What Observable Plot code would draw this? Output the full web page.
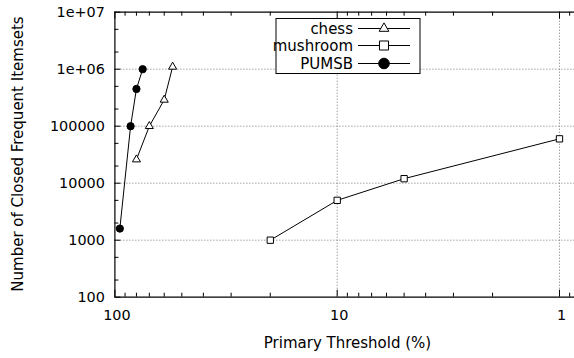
<!DOCTYPE html>
<html><head><meta charset="utf-8">
<script src="https://cdn.jsdelivr.net/npm/d3@7"></script>
<script src="https://cdn.jsdelivr.net/npm/@observablehq/plot@0.6"></script>
<style>
body{margin:0;background:#fff;font-family:"DejaVu Sans",sans-serif;}
#wrap{position:relative;width:574px;height:358px;overflow:hidden;}
#overlay{position:absolute;left:0;top:0;pointer-events:none;}
</style></head><body>
<div id="wrap"></div>
<script>
const seriesNames = ["chess", "mushroom", "PUMSB"];
const chessX = [80, 70, 60, 55];
const chessY = [26000, 100000, 290000, 1100000];
const mushroomX = [20, 10, 5, 1];
const mushroomY = [1000, 5000, 12000, 60000];
const pumsbX = [95, 85, 80, 75];
const pumsbY = [1600, 100000, 450000, 1000000];
const xTicks = [100, 10, 1];
const xTickLabels = ["100", "10", "1"];
const yTicks = [100, 1000, 10000, 100000, 1000000, 10000000];
const yTickLabels = ["100", "1000", "10000", "100000", "1e+06", "1e+07"];
const xLabel = "Primary Threshold (%)";
const yLabel = "Number of Closed Frequent Itemsets";

const symbols = {chess: "triangle", mushroom: "square", PUMSB: "circle"};
const fills = {chess: "white", mushroom: "white", PUMSB: "black"};
const radii = {chess: 3.6, mushroom: 5.1, PUMSB: 5.3};

const table = [];
[[chessX, chessY, "chess"], [mushroomX, mushroomY, "mushroom"], [pumsbX, pumsbY, "PUMSB"]]
  .forEach(([xs, ys, s]) => xs.forEach((x, i) => table.push({series: s, x, y: ys[i]})));

const xMinor = [];
for (const base of [1, 10]) for (let k = 2; k <= 9; k++) xMinor.push(base * k);
xMinor.push(0.9);
const yMinor = [];
for (const base of [100, 1000, 10000, 100000, 1000000]) { yMinor.push(base * 2, base * 5); }

const xLab = new Map(xTicks.map((d, i) => [d, xTickLabels[i]]));
const yLab = new Map(yTicks.map((d, i) => [d, yTickLabels[i]]));

const W = 574, H = 358, mL = 114.4, mR = 0, mT = 11.7, mB = 61.3;
const innerW = W - mL - mR, innerH = H - mT - mB;
const majorLen = 7, minorLen = 4;

const chart = Plot.plot({
  width: W, height: H,
  marginLeft: mL, marginRight: mR, marginTop: mT, marginBottom: mB,
  style: {fontFamily: "DejaVu Sans", fontSize: "14.4px", background: "white", color: "black", overflow: "visible"},
  x: {type: "log", domain: [100, 0.856], axis: null},
  y: {type: "log", domain: [100, 1e7], axis: null},
  marks: [
    Plot.ruleY(yTicks.slice(1, -1), {stroke: "#777", strokeDasharray: "1,2", strokeWidth: 1}),
    Plot.ruleX(xTicks.slice(1), {stroke: "#777", strokeDasharray: "1,2", strokeWidth: 1}),
    // inward ticks
    Plot.ruleX(xTicks, {stroke: "black", insetTop: innerH - majorLen}),
    Plot.ruleX(xMinor, {stroke: "black", insetTop: innerH - minorLen}),
    Plot.ruleX(xTicks, {stroke: "black", insetBottom: innerH - majorLen}),
    Plot.ruleX(xMinor, {stroke: "black", insetBottom: innerH - minorLen}),
    Plot.ruleY(yTicks, {stroke: "black", insetRight: innerW - 6}),
    Plot.ruleY(yMinor, {stroke: "black", insetRight: innerW - minorLen}),
    Plot.axisX(xTicks, {anchor: "bottom", tickSize: 0, tickPadding: 13, dx: 2, tickFormat: d => xLab.get(d), label: null}),
    Plot.axisY(yTicks, {anchor: "left", tickSize: 0, tickPadding: 10, tickFormat: d => yLab.get(d), label: null}),
    Plot.ruleY([100], {stroke: "black", strokeWidth: 1.2}),
    Plot.ruleY([1e7], {stroke: "black", strokeWidth: 1.2}),
    Plot.ruleX([100], {stroke: "black", strokeWidth: 1.2}),
    Plot.line(table, {x: "x", y: "y", z: "series", stroke: "black", strokeWidth: 1}),
    Plot.dot(table, {x: "x", y: "y", symbol: d => symbols[d.series], r: d => radii[d.series],
      fill: d => fills[d.series], stroke: "black", strokeWidth: 1})
  ]
});
document.getElementById("wrap").appendChild(chart);

// overlay: axis titles and legend
const ov = d3.select("#wrap").append("svg").attr("id", "overlay")
  .attr("width", W).attr("height", H)
  .style("font-family", "DejaVu Sans").style("font-size", "15px");
ov.append("text").attr("x", 347.5).attr("y", 347.5).attr("text-anchor", "middle").text(xLabel);
ov.append("text").attr("transform", "translate(23,154) rotate(-90)").attr("text-anchor", "middle").text(yLabel);
const lg = ov.append("g").attr("transform", "translate(276,18.5)");
lg.append("rect").attr("width", 144).attr("height", 55).attr("fill", "white").attr("stroke", "black").attr("stroke-width", 1);
const rowY = [10, 27, 45];
const symPath = {
  chess: d3.symbol(d3.symbolTriangle, Math.PI * radii.chess * radii.chess)(),
  mushroom: d3.symbol(d3.symbolSquare, Math.PI * radii.mushroom * radii.mushroom)(),
  PUMSB: d3.symbol(d3.symbolCircle, Math.PI * radii.PUMSB * radii.PUMSB)()
};
seriesNames.forEach((s, i) => {
  const g = lg.append("g").attr("transform", `translate(0,${rowY[i]})`);
  g.append("text").attr("x", 77).attr("y", 0).attr("dy", "0.35em").attr("text-anchor", "end").text(s);
  g.append("line").attr("x1", 82).attr("x2", 134).attr("y1", 0).attr("y2", 0).attr("stroke", "black");
  g.append("path").attr("d", symPath[s]).attr("transform", "translate(108,0)")
    .attr("fill", fills[s]).attr("stroke", "black");
});
</script>
</body></html>
